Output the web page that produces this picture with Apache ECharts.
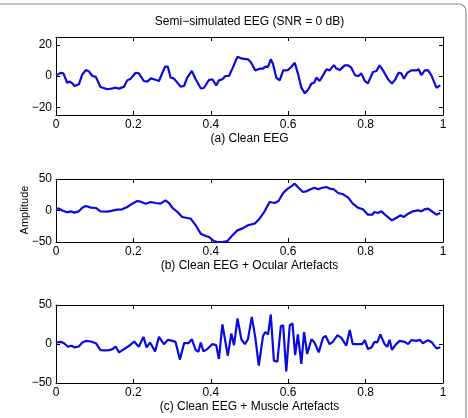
<!DOCTYPE html>
<html>
<head>
<meta charset="utf-8">
<script src="https://cdn.jsdelivr.net/npm/echarts@6/dist/echarts.min.js"></script>
<style>html,body{margin:0;padding:0;background:#fff}#c{width:468px;height:418px}</style>
</head>
<body>
<div id="c"></div>
<script>
const titleText = "Semi\u2212simulated EEG (SNR = 0 dB)";
const panelLabels = ["(a) Clean EEG", "(b) Clean EEG + Ocular Artefacts", "(c) Clean EEG + Muscle Artefacts"];
const yAxisTitle = "Amplitude";
const xTicks = [0, 0.2, 0.4, 0.6, 0.8, 1];
const yTicksA = [-20, 0, 20];
const yTicksB = [-50, 0, 50];
const yTicksC = [-50, 0, 50];

const xA = [0, 0.012, 0.019, 0.029, 0.036, 0.042, 0.048, 0.059, 0.068, 0.077, 0.085, 0.094, 0.103, 0.115, 0.133, 0.146, 0.154, 0.163, 0.176, 0.184, 0.193, 0.206, 0.214, 0.227, 0.236, 0.245, 0.253, 0.266, 0.275, 0.282, 0.289, 0.296, 0.305, 0.322, 0.331, 0.339, 0.351, 0.361, 0.374, 0.382, 0.395, 0.404, 0.414, 0.421, 0.430, 0.438, 0.447, 0.456, 0.469, 0.481, 0.496, 0.503, 0.515, 0.526, 0.535, 0.541, 0.548, 0.555, 0.561, 0.569, 0.578, 0.587, 0.599, 0.608, 0.617, 0.625, 0.634, 0.643, 0.651, 0.660, 0.667, 0.673, 0.681, 0.690, 0.699, 0.707, 0.718, 0.724, 0.733, 0.746, 0.755, 0.763, 0.773, 0.782, 0.789, 0.798, 0.806, 0.819, 0.828, 0.836, 0.845, 0.858, 0.868, 0.877, 0.885, 0.892, 0.899, 0.908, 0.918, 0.931, 0.937, 0.944, 0.953, 0.961, 0.970, 0.983, 0.993];
const yA = [0.4, 2, 1.7, -4.3, -3.6, -4.7, -6.4, -5.3, 1, 3.8, 3, 0, -0.6, -7, -8.5, -7.9, -7.5, -8.1, -6.8, -2.8, -1.7, 2.1, 1.7, -3.2, -3.6, -1.5, -2.1, -3.2, 2.1, 6, 6, -1, -1.7, -6.8, -6.4, -1, 3.2, -2.1, -7.9, -7.7, -2.6, -2.1, -6, -2.8, -2.1, 0, 0, 4.9, 12.4, 11.1, 10.7, 9, 3.6, 4.7, 4.7, 6, 5.8, 10.7, 7.5, -1, -2.8, 3.6, 3.8, 5.8, 8.5, 1.7, -7.5, -11.1, -9, -4.9, -4.3, -1, -3.2, 0.4, 4.3, 3.6, 7, 4.9, 3.8, 6.8, 6.8, 5.3, 0.4, 0, 1.7, -3.2, -4.7, 2.6, 3.2, 6.8, 3.6, -2.1, -4.9, -2.1, 2.1, 1.7, -1.7, 2.1, 3.6, 3.6, 4.3, 0.6, 3.6, 3.8, 0.4, -7.5, -6];

const xB = [0, 0.008, 0.016, 0.029, 0.038, 0.047, 0.059, 0.068, 0.077, 0.090, 0.103, 0.115, 0.133, 0.146, 0.158, 0.171, 0.184, 0.197, 0.210, 0.219, 0.232, 0.245, 0.258, 0.270, 0.283, 0.292, 0.301, 0.314, 0.326, 0.339, 0.348, 0.361, 0.374, 0.387, 0.395, 0.408, 0.417, 0.430, 0.443, 0.456, 0.469, 0.481, 0.496, 0.513, 0.526, 0.539, 0.552, 0.565, 0.575, 0.587, 0.599, 0.608, 0.617, 0.625, 0.638, 0.647, 0.658, 0.668, 0.677, 0.686, 0.699, 0.707, 0.718, 0.729, 0.742, 0.755, 0.767, 0.780, 0.793, 0.806, 0.817, 0.823, 0.832, 0.841, 0.854, 0.868, 0.879, 0.890, 0.899, 0.910, 0.922, 0.935, 0.944, 0.953, 0.961, 0.970, 0.983, 0.993];
const yB = [2.9, 2.9, 0, -2.9, -1.3, -3.4, -1.3, 4.5, 7.1, 4.5, 4, -1.3, -1.9, -0.3, 1.3, 1.9, 5.6, 10.8, 15.1, 14, 10.8, 13.5, 11.9, 10.8, 16.1, 11.9, 4, -2.4, -10.3, -11.9, -13, -23.5, -36.8, -40.5, -42, -48.4, -50, -50, -48.4, -39.4, -31.5, -28.8, -23.5, -20.9, -13, -1.3, 13.5, 11.9, 15.1, 27.8, 34.7, 38.4, 42.6, 37.3, 29.4, 30.4, 33.6, 36.2, 33.6, 35.7, 37.3, 34.7, 33.6, 27.8, 25.7, 20.4, 10.8, 4.5, 1.9, -6.6, -6.6, -2.4, -4, -1.3, -8.7, -15.6, -11.9, -7.7, -10.3, -5, -1.3, 0.3, -1.3, 1.9, 2.9, -0.8, -6.6, -4];

const xC = [0, 0.012, 0.021, 0.031, 0.040, 0.048, 0.059, 0.068, 0.077, 0.090, 0.103, 0.115, 0.128, 0.137, 0.146, 0.154, 0.163, 0.176, 0.189, 0.202, 0.214, 0.226, 0.234, 0.243, 0.256, 0.266, 0.279, 0.289, 0.301, 0.309, 0.320, 0.331, 0.342, 0.351, 0.361, 0.368, 0.374, 0.381, 0.391, 0.404, 0.414, 0.421, 0.430, 0.444, 0.453, 0.460, 0.469, 0.479, 0.488, 0.496, 0.506, 0.515, 0.524, 0.535, 0.541, 0.548, 0.555, 0.563, 0.572, 0.581, 0.587, 0.595, 0.604, 0.611, 0.618, 0.625, 0.634, 0.641, 0.649, 0.660, 0.668, 0.679, 0.690, 0.697, 0.707, 0.716, 0.727, 0.737, 0.750, 0.759, 0.767, 0.780, 0.791, 0.798, 0.806, 0.815, 0.823, 0.830, 0.838, 0.849, 0.856, 0.862, 0.868, 0.879, 0.888, 0.901, 0.910, 0.918, 0.931, 0.940, 0.948, 0.961, 0.970, 0.983, 0.993];
const yC = [1.9, 2.7, 1, -3.6, -2.3, -4.4, -3.2, 1.9, 4, 3.2, 1, -7.8, -8.2, -7.8, -6.5, -3.2, -10.8, -6.5, -2.3, 3.2, -3.6, 9.1, -4.4, 1.9, -9.5, 9.1, -0.2, 5.3, 4, 2.7, -20, 1, 1, 6.1, -7.8, -9.9, 1.9, -9.5, -6.5, -0.2, -1.5, -19.2, 25.1, -15, 13.3, -1.5, 32.7, 6.1, -0.2, 6.1, 34.8, 8.2, -27.6, 10.3, 15.4, 12.4, 37.8, -21.3, -22.6, 23, 23.8, -35.2, 23.8, 26.4, -14.1, 12.4, -25.5, 15.4, -12.9, 6.1, 1.9, -10.8, 8.2, 10.3, -0.2, 3.2, 11.2, 8.2, -2.3, 17.9, -0.2, -0.2, -0.2, 4.9, -6.5, -4.4, 2.7, 1.9, 12.4, -0.2, -3.6, 5.3, -7.4, -0.2, 4, 2.7, -0.2, 4.9, 4, 5.3, 1, 4.9, 2.7, -5.7, -4.4];

const FONT = "'Liberation Sans', Arial, Helvetica, sans-serif";
const LINE_COLOR = '#0a0ae0';
const zip = (xs, ys) => xs.map((x, i) => [x, ys[i]]);
const fmtNum = v => String(v).replace('-', '\u2212');

const panels = [
  { top: 37, height: 78, ymin: -25, ymax: 25, ticks: yTicksA, xs: xA, ys: yA },
  { top: 179, height: 63, ymin: -50, ymax: 50, ticks: yTicksB, xs: xB, ys: yB },
  { top: 305, height: 78, ymin: -50, ymax: 50, ticks: yTicksC, xs: xC, ys: yC }
];
const LEFT = 56, WIDTH = 387;

const grid = [], xAxis = [], yAxis = [], series = [], graphic = [];
const axisLine = { show: true, onZero: false, lineStyle: { color: '#000', width: 1 } };
const tick = { show: true, inside: true, length: 4, lineStyle: { color: '#000', width: 1 } };

panels.forEach((p, i) => {
  grid.push({ left: LEFT, width: WIDTH, top: p.top, height: p.height, containLabel: false });
  xAxis.push({
    type: 'value', gridIndex: i, position: 'bottom', min: 0, max: 1, interval: 0.2,
    axisLine, axisTick: { ...tick, customValues: xTicks },
    axisLabel: { customValues: xTicks, color: '#000', fontSize: 12, fontFamily: FONT, margin: 4, formatter: v => fmtNum(v) },
    splitLine: { show: false }
  });
  xAxis.push({
    type: 'value', gridIndex: i, position: 'top', min: 0, max: 1, interval: 0.2,
    axisLine, axisTick: { ...tick, customValues: xTicks }, axisLabel: { show: false }, splitLine: { show: false }
  });
  yAxis.push({
    type: 'value', gridIndex: i, position: 'left', min: p.ymin, max: p.ymax,
    axisLine, axisTick: { ...tick, customValues: p.ticks },
    axisLabel: { customValues: p.ticks, color: '#000', fontSize: 12, fontFamily: FONT, margin: 4, formatter: v => fmtNum(v) },
    splitLine: { show: false }
  });
  yAxis.push({
    type: 'value', gridIndex: i, position: 'right', min: p.ymin, max: p.ymax,
    axisLine, axisTick: { ...tick, customValues: p.ticks }, axisLabel: { show: false }, splitLine: { show: false }
  });
  series.push({
    type: 'line', xAxisIndex: 2 * i, yAxisIndex: 2 * i, data: zip(p.xs, p.ys),
    showSymbol: false, symbol: 'none', clip: true,
    lineStyle: { color: LINE_COLOR, width: 2.2 }, animation: false
  });
  graphic.push({
    type: 'text', x: LEFT + WIDTH / 2, y: p.top + p.height + 24,
    style: { text: panelLabels[i], fill: '#000', font: '12px ' + FONT, textAlign: 'center', textVerticalAlign: 'middle' }
  });
});

graphic.push({
  type: 'text', x: LEFT + WIDTH / 2, y: 22,
  style: { text: titleText, fill: '#000', font: '12px ' + FONT, textAlign: 'center', textVerticalAlign: 'middle' }
});
graphic.push({
  type: 'text', x: 25, y: 210, rotation: Math.PI / 2,
  style: { text: yAxisTitle, fill: '#000', font: '11px ' + FONT, textAlign: 'center', textVerticalAlign: 'middle' }
});
graphic.push({
  type: 'rect', shape: { x: -10, y: 4, width: 476, height: 500, r: 7 },
  style: { fill: 'none', stroke: '#8c8c8c', lineWidth: 1.2 }, silent: true
});

const chart = echarts.init(document.getElementById('c'), null, { renderer: 'canvas' });
chart.setOption({ animation: false, backgroundColor: '#fff', grid, xAxis, yAxis, series, graphic });
</script>
</body>
</html>
